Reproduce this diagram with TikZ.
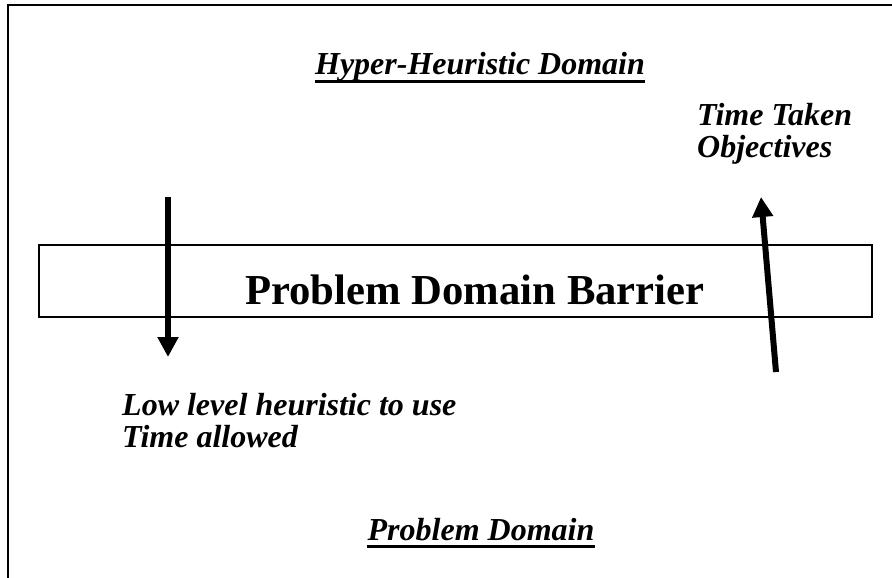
\documentclass[tikz,border=0pt]{standalone}
\usepackage{fontspec}
\setmainfont{Liberation Serif}
\usetikzlibrary{arrows.meta}
\tikzset{
  label/.style={inner sep=0pt, font=\fontsize{32}{32}\selectfont\bfseries\itshape},
  barrier/.style={draw, line width=1.5pt},
  bigarrow/.style={line width=6pt, -{Triangle[width=20pt,length=20pt]}},
  uline/.style={line width=3pt}
}
\begin{document}
\begin{tikzpicture}[x=1pt,y=-1pt]
  \useasboundingbox (0,0) rectangle (892,578);
  % outer frame (left and top edges only)
  \draw[line width=2pt] (8,578) -- (8,5) -- (892,5);

  % barrier box and its title
  \draw[barrier] (39,245) rectangle (872,317);
  \node[inner sep=0pt, anchor=base, font=\fontsize{42.7}{42.7}\selectfont\bfseries] (barrier) at (475,304) {Problem Domain Barrier};

  % domain headings
  \node[label, anchor=base] (hyper) at (480,75) {Hyper-Heuristic Domain};
  \draw[uline] ([yshift=-7pt]hyper.base west) -- ([yshift=-7pt]hyper.base east);
  \node[label, anchor=base] (problem) at (481,540) {Problem Domain};
  \draw[uline] ([yshift=-6pt]problem.base west) -- ([yshift=-6pt]problem.base east);

  % messages passed upwards
  \node[label, anchor=base west] (taken) at (697,125) {Time Taken};
  \node[label, anchor=base west] (objectives) at (697,157) {Objectives};

  % messages passed downwards
  \node[label, anchor=base west] (lowlevel) at (122,415) {Low level heuristic to use};
  \node[label, anchor=base west] (allowed) at (122,447) {Time allowed};

  % arrows crossing the barrier
  \coordinate (downtop) at (168,197);
  \coordinate (downtip) at (168,357);
  \coordinate (uptail) at (776,372);
  \coordinate (uptip) at (761,197);
  \draw[bigarrow] (downtop) -- (downtip);
  \draw[bigarrow] (uptail) -- (uptip);
\end{tikzpicture}
\end{document}
